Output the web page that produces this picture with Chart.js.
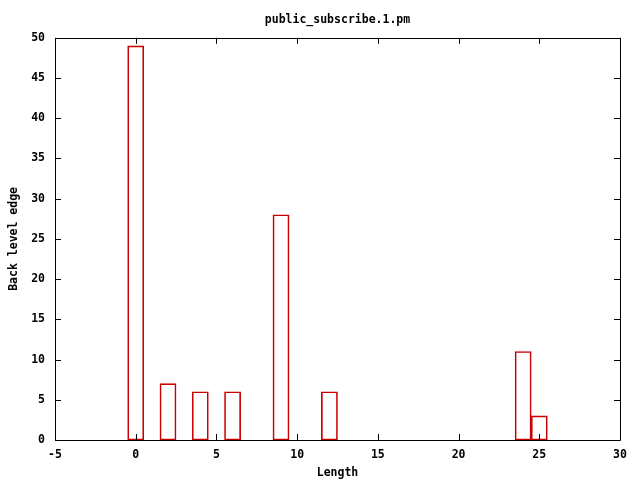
<!DOCTYPE html>
<html>
<head>
<meta charset="utf-8">
<script src="https://cdn.jsdelivr.net/npm/chart.js@4/dist/chart.umd.min.js"></script>
<style>
  html, body { margin: 0; padding: 0; background: #fff; }
  #wrap { width: 640px; height: 480px; }
</style>
</head>
<body>
<div id="wrap"><canvas id="myChart" width="640" height="480"></canvas></div>
<script>
const lengths = [0, 2, 4, 6, 9, 12, 24, 25];
const counts = [49, 7, 6, 6, 28, 6, 11, 3];
const xTicks = [-5, 0, 5, 10, 15, 20, 25, 30];
const yTicks = [0, 5, 10, 15, 20, 25, 30, 35, 40, 45, 50];

const monoFont = { family: "'DejaVu Sans Mono', monospace", size: 11.5, weight: 'bold' };

// gnuplot style box with ticks pointing inward on all sides
const boxPlugin = {
    id: 'box',
    afterDraw(chart) {
        const ctx = chart.ctx;
        const a = chart.chartArea;
        const xs = chart.scales.x;
        const ys = chart.scales.y;
        ctx.save();
        ctx.strokeStyle = '#000';
        ctx.lineWidth = 1;
        ctx.beginPath();
        ctx.rect(Math.round(a.left) + 0.5, Math.round(a.top) + 0.5,
                 Math.round(a.right - a.left), Math.round(a.bottom - a.top));
        xTicks.forEach(v => {
            const px = Math.round(xs.getPixelForValue(v)) + 0.5;
            ctx.moveTo(px, a.bottom); ctx.lineTo(px, a.bottom - 6);
            ctx.moveTo(px, a.top); ctx.lineTo(px, a.top + 6);
        });
        yTicks.forEach(v => {
            const py = Math.round(ys.getPixelForValue(v)) + 0.5;
            ctx.moveTo(a.left, py); ctx.lineTo(a.left + 6, py);
            ctx.moveTo(a.right, py); ctx.lineTo(a.right - 6, py);
        });
        ctx.stroke();
        ctx.restore();
    }
};

const data = {
    datasets: [{
        label: 'public_subscribe.1.pm',
        data: lengths.map((l, i) => ({ x: l, y: counts[i] })),
        backgroundColor: 'rgba(255,255,255,0)',
        borderColor: '#cc0000',
        borderWidth: 1,
        borderSkipped: false,
        categoryPercentage: 1.0,
        barPercentage: 1.0
    }]
};

const config = {
    type: 'bar',
    data: data,
    options: {
        responsive: false,
        animation: false,
        layout: { padding: { top: 0, right: 20, bottom: 0, left: 0 } },
        plugins: {
            legend: { display: false },
            tooltip: { enabled: false },
            title: {
                display: true,
                fullSize: false,
                text: 'public_subscribe.1.pm',
                color: '#000',
                font: monoFont,
                padding: { top: 13, bottom: 11 }
            }
        },
        scales: {
            x: {
                type: 'linear',
                min: -5,
                max: 30,
                offset: false,
                afterBuildTicks(scale) { scale.ticks = xTicks.map(v => ({ value: v })); },
                afterFit(scale) { scale.height = 40; },
                ticks: { color: '#000', font: monoFont, padding: 8, maxRotation: 0 },
                grid: { display: false, drawTicks: false },
                border: { display: false },
                title: { display: true, text: 'Length', color: '#000', font: monoFont, padding: { top: 0, bottom: 0 } }
            },
            y: {
                min: 0,
                max: 50,
                afterBuildTicks(scale) { scale.ticks = yTicks.map(v => ({ value: v })); },
                afterFit(scale) { scale.width = 55; },
                ticks: { color: '#000', font: monoFont, padding: 10 },
                grid: { display: false, drawTicks: false },
                border: { display: false },
                title: { display: true, text: 'Back level edge', color: '#000', font: monoFont, padding: { top: 7, bottom: 0 } }
            }
        }
    },
    plugins: [boxPlugin]
};

const myChart = new Chart(document.getElementById('myChart'), config);
</script>
</body>
</html>
